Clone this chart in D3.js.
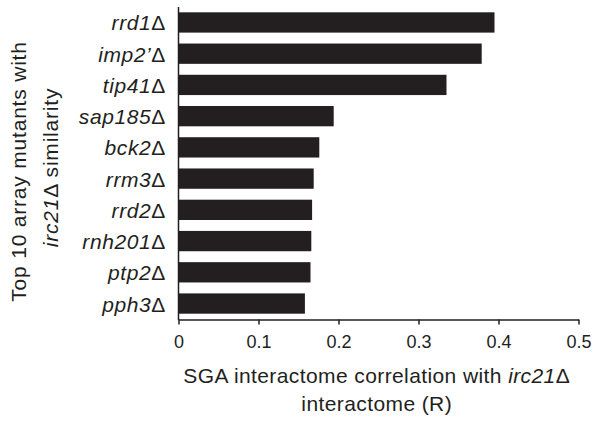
<!DOCTYPE html>
<html>
<head>
<meta charset="utf-8">
<script src="https://cdn.jsdelivr.net/npm/d3@7"></script>
<style>
  body { margin: 0; background: #fff; }
  text { font-family: "Liberation Sans", Arial, Helvetica, sans-serif; fill: #231f20; }
</style>
</head>
<body>
<svg id="chart" width="594" height="421"></svg>
<script>
// mutant names (italic part) and their correlation with irc21 delta
var mutants = ['rrd1', 'imp2\u2019', 'tip41', 'sap185', 'bck2', 'rrm3', 'rrd2', 'rnh201', 'ptp2', 'pph3'];
var correlation = [0.395, 0.379, 0.335, 0.194, 0.176, 0.169, 0.167, 0.166, 0.165, 0.158];
var xTicks = [0, 0.1, 0.2, 0.3, 0.4, 0.5];

var ink = '#231f20';
var svg = d3.select('#chart');

var x = d3.scaleLinear().domain([0, 0.5]).range([178.5, 578.5]);
var y = d3.scaleBand().domain(mutants).range([7, 319]).paddingInner(0.35).paddingOuter(0.17);

// bars
svg.append('g').selectAll('rect')
  .data(mutants)
  .enter().append('rect')
    .attr('x', x(0))
    .attr('y', d => y(d))
    .attr('width', (d, i) => x(correlation[i]) - x(0))
    .attr('height', y.bandwidth())
    .attr('fill', ink);

// x axis
var xAxis = svg.append('g')
  .attr('transform', 'translate(0,319.5)')
  .call(d3.axisBottom(x).tickValues(xTicks).tickSize(5).tickSizeOuter(0)
    .tickFormat(d => d === 0 ? '0' : d3.format('.1f')(d)));
xAxis.select('.domain').attr('stroke', ink).attr('stroke-width', 1.5);
xAxis.selectAll('.tick line').attr('stroke', ink).attr('stroke-width', 1.5);
xAxis.selectAll('.tick text')
  .attr('y', 16)
  .attr('dy', '0.71em')
  .style('font-size', '18px')
  .attr('fill', ink);

// y axis line (no ticks)
svg.append('line')
  .attr('x1', x(0)).attr('x2', x(0))
  .attr('y1', 7).attr('y2', 320.2)
  .attr('stroke', ink).attr('stroke-width', 1.5);

// category labels: italic gene name + upright delta
var labels = svg.append('g').selectAll('text')
  .data(mutants)
  .enter().append('text')
    .attr('x', 166)
    .attr('y', d => y(d) + y.bandwidth() / 2)
    .attr('dy', '0.38em')
    .attr('text-anchor', 'end')
    .style('font-size', '21px')
    .style('letter-spacing', '0.6px');
labels.append('tspan').style('font-style', 'italic').text(d => d);
labels.append('tspan').text('\u0394');

// y axis title, two lines rotated
var yTitle1 = svg.append('text')
  .attr('transform', 'translate(26,171.5) rotate(-90)')
  .attr('text-anchor', 'middle')
  .style('font-size', '21px')
  .style('letter-spacing', '0.8px')
  .text('Top 10 array mutants with');
var yTitle2 = svg.append('text')
  .attr('transform', 'translate(57.5,167.5) rotate(-90)')
  .attr('text-anchor', 'middle')
  .style('font-size', '21px')
  .style('letter-spacing', '0.8px');
yTitle2.append('tspan').style('font-style', 'italic').text('irc21');
yTitle2.append('tspan').text('\u0394 similarity');

// x axis title, two lines
var xTitle1 = svg.append('text')
  .attr('x', 376.7).attr('y', 383.3)
  .attr('text-anchor', 'middle')
  .style('font-size', '21px')
  .style('letter-spacing', '0.4px');
xTitle1.append('tspan').text('SGA interactome correlation with ');
xTitle1.append('tspan').style('font-style', 'italic').text('irc21');
xTitle1.append('tspan').text('\u0394');
svg.append('text')
  .attr('x', 376.7).attr('y', 411)
  .attr('text-anchor', 'middle')
  .style('font-size', '21px')
  .style('letter-spacing', '0.4px')
  .text('interactome (R)');
</script>
</body>
</html>
